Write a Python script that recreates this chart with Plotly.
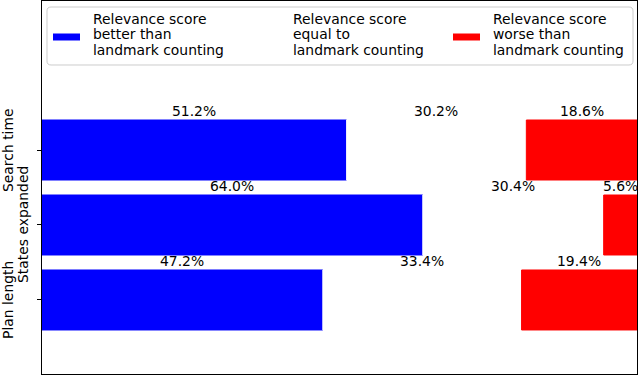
import plotly.graph_objects as go
import re

categories = ["Search time", "States expanded", "Plan length"]
better = [51.2, 64.0, 47.2]
equal = [30.2, 30.4, 33.4]
worse = [18.6, 5.6, 19.4]
series_names = [
    "Relevance score\nbetter than\nlandmark counting",
    "Relevance score\nequal to\nlandmark counting",
    "Relevance score\nworse than\nlandmark counting",
]
series_values = [better, equal, worse]
colors = ["#0000ff", "#ffffff", "#ff0000"]

ypos = [len(categories) - 1 - i for i in range(len(categories))]
FONT = "DejaVu Sans"
FS = 13.9

# plot area in pixels (for placing the hand-drawn legend)
L, R, T, B = 42, 637, 1, 374
def px(x):
    return (x - L) / (R - L)
def py(y):
    return (B - y) / (B - T)

fig = go.Figure()
bases = [0.0] * len(categories)
annotations = []
shapes = []
for name, vals, col in zip(series_names, series_values, colors):
    fig.add_trace(go.Bar(
        y=ypos, x=vals, base=list(bases), orientation="h", name=name.replace("\n", " "),
        marker=dict(color=col, line=dict(color=col, width=1)), width=0.8,
        hoverinfo="skip", showlegend=False,
    ))
    for yv, b, v in zip(ypos, bases, vals):
        annotations.append(dict(
            x=b + v / 2, y=yv + 0.4, xref="x", yref="y", text=f"{v:.1f}%",
            showarrow=False, yanchor="bottom", yshift=-1,
            font=dict(family=FONT, size=FS, color="black"),
        ))
    bases = [b + v for b, v in zip(bases, vals)]

label_shift = [-34, -19, -34]
for yv, cat, sh in zip(ypos, categories, label_shift):
    annotations.append(dict(
        x=0, y=yv, xref="paper", yref="y", text=cat, textangle=-90,
        showarrow=False, xanchor="center", yanchor="middle", xshift=sh,
        font=dict(family=FONT, size=FS, color="black"),
    ))

# legend frame (rounded)
x0, x1, y0, y1, r = 47, 633, 7, 65, 4
path = (f"M {x0+r},{y0} L {x1-r},{y0} Q {x1},{y0} {x1},{y0+r} "
        f"L {x1},{y1-r} Q {x1},{y1} {x1-r},{y1} L {x0+r},{y1} "
        f"Q {x0},{y1} {x0},{y1-r} L {x0},{y0+r} Q {x0},{y0} {x0+r},{y0} Z")
def conv(m):
    xx, yy = float(m.group(1)), float(m.group(2))
    return f"{px(xx):.5f},{py(yy):.5f}"
path = re.sub(r"(-?\d+\.?\d*),(-?\d+\.?\d*)", conv, path)
shapes.append(dict(type="path", path=path, xref="paper", yref="paper",
                   line=dict(color="#cccccc", width=1), fillcolor="rgba(255,255,255,0.8)",
                   layer="above"))

entry_x = [53, 253, 453]
for ex, name, col in zip(entry_x, series_names, colors):
    shapes.append(dict(type="rect", xref="paper", yref="paper",
                       x0=px(ex), x1=px(ex + 27), y0=py(40.5), y1=py(33.5),
                       fillcolor=col, line=dict(width=0), layer="above"))
    for k, line in enumerate(name.split("\n")):
        annotations.append(dict(
            x=px(ex + 38), y=py(19 + 15.5 * k), xref="paper", yref="paper",
            text=line, showarrow=False, xanchor="left", yanchor="middle",
            font=dict(family=FONT, size=FS, color="black"),
        ))

fig.update_layout(
    width=640, height=377,
    margin=dict(l=L, r=640 - R, t=T, b=377 - B),
    paper_bgcolor="white", plot_bgcolor="white",
    barmode="overlay",
    showlegend=False,
    annotations=annotations,
    shapes=shapes,
    font=dict(family=FONT, size=FS, color="black"),
)
fig.update_xaxes(range=[0, 100], showticklabels=False, ticks="", showgrid=False,
                 zeroline=False, showline=True, linecolor="black", linewidth=1, mirror=True)
fig.update_yaxes(range=[-0.987, 3.987], tickvals=ypos, showticklabels=False,
                 ticks="outside", ticklen=4, tickcolor="black", showgrid=False,
                 zeroline=False, showline=True, linecolor="black", linewidth=1, mirror=True)

fig.write_html("out.html", config={"displayModeBar": False},
               post_script="document.body.style.margin='0';")
